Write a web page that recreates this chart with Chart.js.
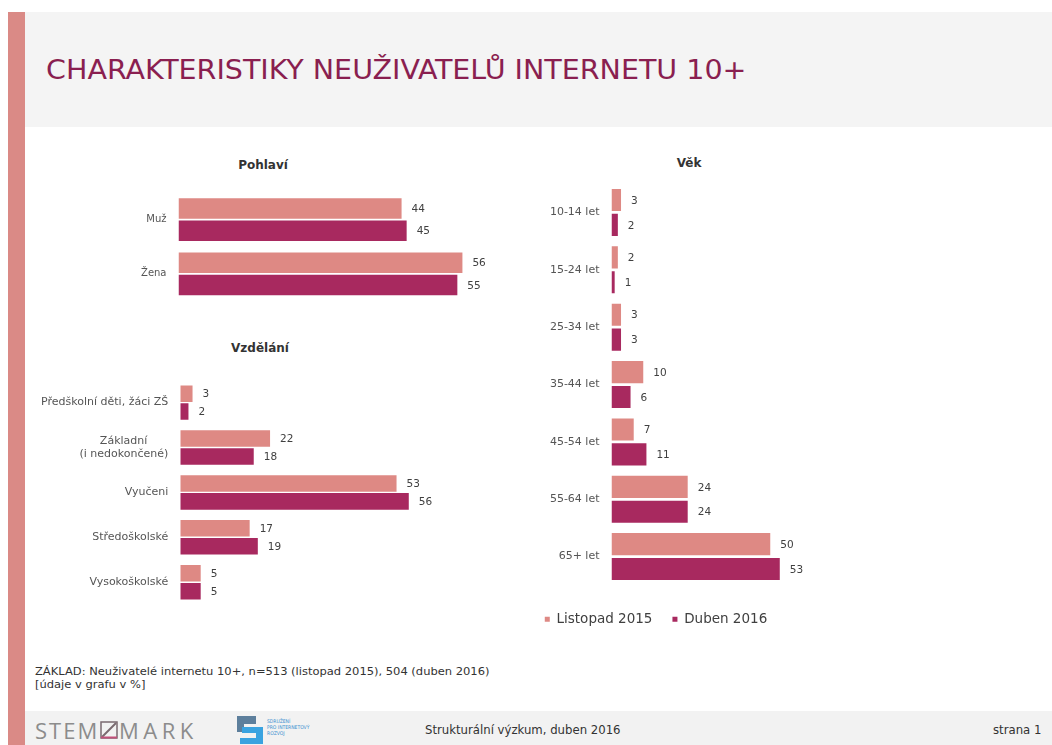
<!DOCTYPE html>
<html lang="cs">
<head>
<meta charset="utf-8">
<script src="https://cdn.jsdelivr.net/npm/chart.js@4.4.1/dist/chart.umd.min.js"></script>
<style>
html, body { margin: 0; padding: 0; background: #fff; }
body { width: 1052px; height: 745px; position: relative; overflow: hidden; font-family: "DejaVu Sans", sans-serif; }
.abs { position: absolute; white-space: nowrap; }
#pruh { left: 8px; top: 12px; width: 17px; height: 733px; background: #da8a86; }
#hlavicka { left: 25px; top: 12px; width: 1027px; height: 115px; background: #f4f4f4; }
#nadpis { left: 46px; top: 54px; font-family: "DejaVu Sans Condensed", "DejaVu Sans"; font-size: 27px; color: #8a1f50; transform-origin: 0 0; }
.titulek { font-weight: bold; font-size: 12px; color: #333; transform: translateX(-50%); }
#zaklad { left: 35px; top: 665px; font-family: "DejaVu Sans Condensed"; font-size: 10.5px; line-height: 13px; color: #333; transform-origin: 0 0; }
#paticka { left: 25px; top: 711px; width: 1027px; height: 34px; background: #f2f2f2; }
.logo { top: 715px; font-family: "Open Sans"; font-size: 22px; color: #8c8c8c; }
#vyzkum { left: 425px; top: 722px; font-family: "DejaVu Sans Condensed"; font-size: 13px; color: #333; }
#strana { left: 993px; top: 722px; font-family: "DejaVu Sans Condensed"; font-size: 13px; color: #333; }
#sdruzeni { left: 267px; top: 718px; font-family: "DejaVu Sans Condensed"; font-size: 5px; line-height: 6px; color: #3a8fd0; }
canvas { position: absolute; }
</style>
</head>
<body>
<div id="pruh" class="abs"></div>
<div id="hlavicka" class="abs"></div>
<div id="nadpis" class="abs">CHARAKTERISTIKY NEUŽIVATELŮ INTERNETU 10+</div>

<div class="abs titulek" style="left:263px; top:158px;">Pohlaví</div>
<div class="abs titulek" style="left:260px; top:341px;">Vzdělání</div>
<div class="abs titulek" style="left:689px; top:156px;">Věk</div>

<canvas id="graf-pohlavi" width="460" height="150" style="left:60px; top:172px;"></canvas>
<canvas id="graf-vzdelani" width="430" height="266" style="left:30px; top:360px;"></canvas>
<canvas id="graf-vek" width="310" height="473" style="left:502px; top:163px;"></canvas>

<div id="zaklad" class="abs">ZÁKLAD: Neuživatelé internetu 10+, n=513 (listopad 2015), 504 (duben 2016)<br>[údaje v grafu v %]</div>

<div id="paticka" class="abs"></div>
<div class="abs logo" style="left:35px; letter-spacing:2px;">STEM</div>
<svg class="abs" style="left:100px; top:721px;" width="18" height="18">
  <rect x="1" y="1" width="16" height="16" fill="none" stroke="#7a6a70" stroke-width="1.5"/>
  <line x1="2" y1="16" x2="16" y2="2" stroke="#7a6a70" stroke-width="2"/>
  <line x1="1" y1="16.5" x2="17" y2="16.5" stroke="#c2507a" stroke-width="2"/>
</svg>
<div class="abs logo" style="left:119px; letter-spacing:4.5px;">MARK</div>
<svg class="abs" style="left:237px; top:716px;" width="26" height="29">
  <rect x="0" y="0" width="19" height="8" fill="#5d7f9c"/>
  <rect x="0" y="0" width="7" height="16" fill="#5d7f9c"/>
  <rect x="5" y="11" width="21" height="6" fill="#3aa3e0"/>
  <rect x="19" y="11" width="7" height="16" fill="#3aa3e0"/>
  <rect x="3" y="22" width="23" height="6" fill="#3aa3e0"/>
</svg>
<div id="sdruzeni" class="abs">SDRUŽENÍ<br>PRO INTERNETOVÝ<br>ROZVOJ</div>
<div id="vyzkum" class="abs">Strukturální výzkum, duben 2016</div>
<div id="strana" class="abs">strana 1</div>

<script>
// barvy řad
const barvaListopad = '#de8984';
const barvaDuben = '#a8295f';
const nazvyRad = ['Listopad 2015', 'Duben 2016'];

// Pohlaví
const pohlaviKategorie = ['Muž', 'Žena'];
const pohlaviListopad = [44, 56];
const pohlaviDuben = [45, 55];

// Vzdělání
const vzdelaniKategorie = ['Předškolní děti, žáci ZŠ', ['Základní', '(i nedokončené)'], 'Vyučeni', 'Středoškolské', 'Vysokoškolské'];
const vzdelaniListopad = [3, 22, 53, 17, 5];
const vzdelaniDuben = [2, 18, 56, 19, 5];

// Věk
const vekKategorie = ['10-14 let', '15-24 let', '25-34 let', '35-44 let', '45-54 let', '55-64 let', '65+ let'];
const vekListopad = [3, 2, 3, 10, 7, 24, 50];
const vekDuben = [2, 1, 3, 6, 11, 24, 53];

// texty roztáhnout na šířku jako v originále
function roztahni(id, sirka) {
    const el = document.getElementById(id);
    el.style.transform = 'scaleX(' + (sirka / el.offsetWidth) + ')';
}
roztahni('nadpis', 701);
roztahni('zaklad', 455);

// popisky hodnot za konec sloupce
const hodnotyPlugin = {
    id: 'hodnoty',
    afterDatasetsDraw(chart) {
        const ctx = chart.ctx;
        ctx.save();
        ctx.font = '10.5px "DejaVu Sans"';
        ctx.fillStyle = '#404040';
        ctx.textAlign = 'left';
        ctx.textBaseline = 'middle';
        chart.data.datasets.forEach((ds, i) => {
            chart.getDatasetMeta(i).data.forEach((bar, j) => {
                ctx.fillText(ds.data[j], bar.x + 10, bar.y + 1);
            });
        });
        ctx.restore();
    }
};

function vytvorGraf(id, kategorie, listopad, duben, nastaveni) {
    const ctx = document.getElementById(id);
    return new Chart(ctx.getContext('2d'), {
        type: 'bar',
        data: {
            labels: kategorie,
            datasets: [
                {
                    label: nazvyRad[0],
                    data: listopad,
                    backgroundColor: barvaListopad,
                    barPercentage: nastaveni.barPct,
                    categoryPercentage: nastaveni.catPct
                },
                {
                    label: nazvyRad[1],
                    data: duben,
                    backgroundColor: barvaDuben,
                    barPercentage: nastaveni.barPct,
                    categoryPercentage: nastaveni.catPct
                }
            ]
        },
        options: {
            indexAxis: 'y',
            responsive: false,
            animation: false,
            devicePixelRatio: 1,
            layout: { padding: nastaveni.padding },
            scales: {
                x: { display: false, min: 0, max: 60 },
                y: {
                    afterFit: (scale) => { scale.width = nastaveni.sirkaOsy; },
                    grid: { display: false, drawTicks: false },
                    border: { display: false },
                    ticks: {
                        padding: 12,
                        color: '#555',
                        font: { family: 'DejaVu Sans', size: nastaveni.pismo, lineHeight: 1.25 },
                        callback: function (value) {
                            const label = this.getLabelForValue(value);
                            // dvouřádkový popisek: první řádek vystředit nad druhým
                            if (Array.isArray(label)) {
                                return [label[0] + '      ', label[1]];
                            }
                            return label;
                        }
                    }
                }
            },
            plugins: {
                tooltip: { enabled: false },
                legend: nastaveni.legenda || { display: false }
            }
        },
        plugins: [hodnotyPlugin]
    });
}

vytvorGraf('graf-pohlavi', pohlaviKategorie, pohlaviListopad, pohlaviDuben, {
    barPct: 0.92, catPct: 0.82, sirkaOsy: 118.5, pismo: 10,
    padding: { top: 20.4, bottom: 21, right: 37.3 }
});

vytvorGraf('graf-vzdelani', vzdelaniKategorie, vzdelaniListopad, vzdelaniDuben, {
    barPct: 0.92, catPct: 0.8, sirkaOsy: 150.3, pismo: 11,
    padding: { top: 20.2, bottom: 21.4, right: 34.9 }
});

vytvorGraf('graf-vek', vekKategorie, vekListopad, vekDuben, {
    barPct: 0.89, catPct: 0.867, sirkaOsy: 101.5, pismo: 11,
    padding: { top: 20.8, bottom: 0, left: 8, right: 10 },
    legenda: {
        display: true,
        position: 'bottom',
        title: { display: true, text: '', padding: { top: 6, bottom: 0 }, font: { size: 1 } },
        labels: {
            boxWidth: 5,
            boxHeight: 5,
            padding: 20,
            color: '#404040',
            font: { family: 'DejaVu Sans', size: 13.5 }
        }
    }
});
</script>
</body>
</html>
